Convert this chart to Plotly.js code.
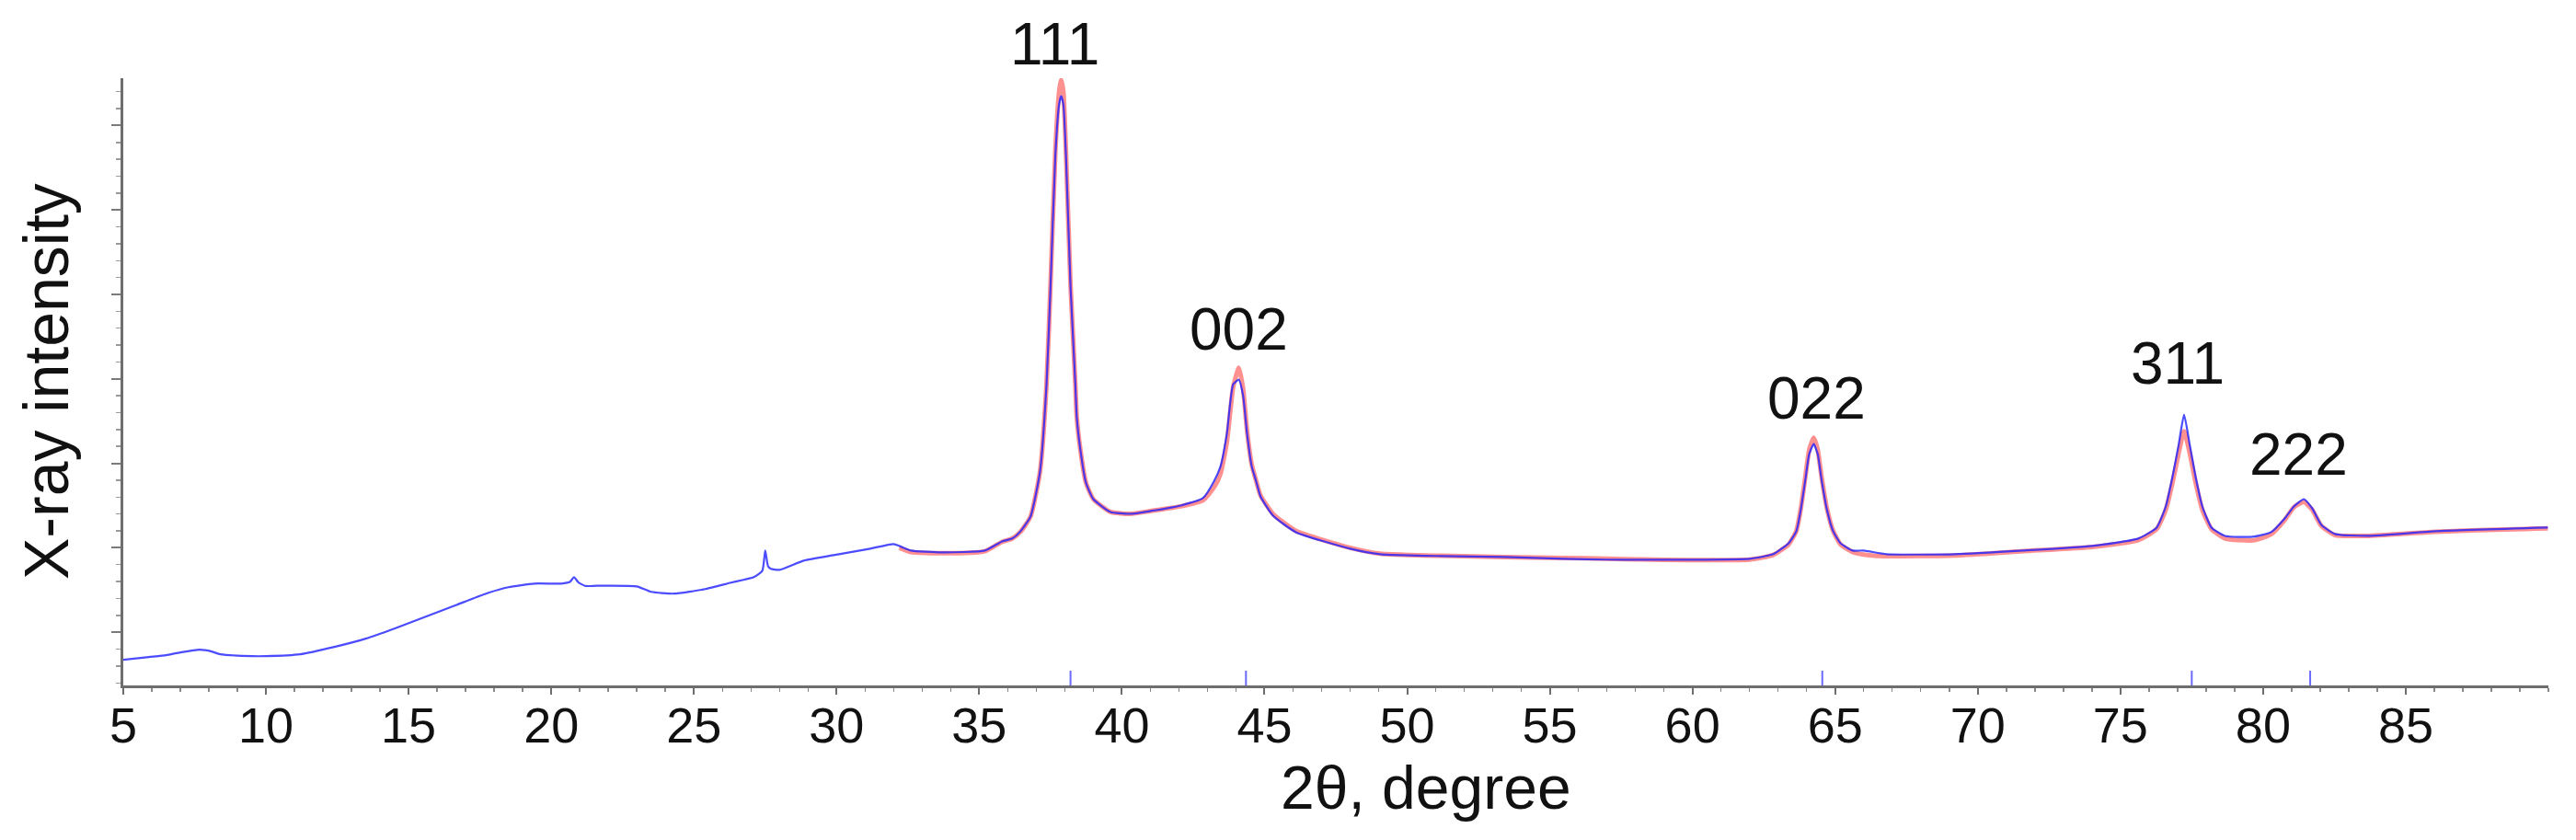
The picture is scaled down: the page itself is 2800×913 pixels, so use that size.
<!DOCTYPE html>
<html>
<head>
<meta charset="utf-8">
<script src="https://cdn.plot.ly/plotly-3.0.1.min.js"></script>
<style>
  html, body { margin:0; padding:0; background:#fff; }
  #xrd { width:2800px; height:913px; }
</style>
</head>
<body>
<div id="xrd"></div>
<script>
'use strict';

const obsTheta = [5.0, 5.9, 6.5, 7.0, 7.68, 8.1, 8.4, 9.5, 10.0, 11.2, 12.4, 13.5, 14.5, 15.6, 16.7, 17.8, 18.5, 19.4,
  20.35, 20.65, 20.8, 20.95, 21.2, 21.6, 23.0, 23.5, 24.3, 25.4, 26.3, 27.1, 27.4, 27.5, 27.6, 27.7, 28.0, 28.85, 29.9,
  31.0, 32.0, 32.2, 32.6, 33.7, 35.2, 35.8, 36.16, 36.45, 36.8, 37.13, 37.36, 37.5, 37.67, 37.8, 37.87, 37.95, 38.04,
  38.2, 38.37, 38.42, 38.55, 38.74, 39.0, 39.6, 40.3, 41.0, 42.06, 42.84, 43.24, 43.46, 43.68, 43.9, 44.1, 44.25, 44.39,
  44.55, 44.7, 44.86, 45.3, 46.1, 48.0, 49.06, 51.2, 53.4, 55.5, 57.0, 58.2, 59.8, 62.0, 62.83, 63.37, 63.64, 63.8,
  63.96, 64.09, 64.25, 64.39, 64.52, 64.71, 64.93, 65.19, 65.61, 66.0, 66.8, 69.2, 71.6, 74.02, 75.62, 76.27, 76.59,
  76.83, 77.04, 77.23, 77.43, 77.63, 77.87, 78.19, 78.67, 79.64, 80.28, 80.76, 81.08, 81.43, 81.72, 82.04, 82.52, 83.65,
  86.05, 89.98];
const obsInt = [674, 707, 728, 761, 793, 772, 739, 717, 717, 739, 826, 924, 1043, 1185, 1326, 1467, 1533, 1576,
  1576, 1595, 1652, 1590, 1548, 1550, 1543, 1478, 1457, 1511, 1587, 1652, 1728, 1967, 1780, 1750, 1739, 1848, 1913,
  1978, 2044, 2022, 1967, 1946, 1967, 2076, 2110, 2196, 2370, 2900, 3935, 5098, 6652, 7250, 7348, 7250, 6652,
  5098, 3935, 3544, 3152, 2772, 2576, 2424, 2402, 2435, 2500, 2587, 2794, 2967, 3348, 3935, 3990, 3800, 3348,
  2967, 2794, 2609, 2380, 2185, 1989, 1924, 1902, 1891, 1870, 1860, 1859, 1859, 1870, 1924, 2054, 2196, 2457,
  2815, 3109, 3228, 3109, 2815, 2457, 2196, 2054, 1967, 1967, 1924, 1924, 1967, 2022, 2109, 2239, 2489,
  2848, 3217, 3576, 3217, 2848, 2489, 2239, 2141, 2130, 2185, 2348, 2489, 2576, 2467, 2272, 2163, 2141,
  2196, 2239];

// calculated profile (red)
const calcTheta = [32.2, 32.6, 33.7, 35.2, 35.8, 36.16, 36.45, 36.8, 37.13, 37.36, 37.5, 37.67, 37.8, 37.87, 37.95,
  38.04, 38.2, 38.37, 38.42, 38.55, 38.74, 39.0, 39.6, 40.3, 41.0, 42.06, 42.84, 43.24, 43.46, 43.68, 43.9, 44.1,
  44.25, 44.39, 44.55, 44.7, 44.86, 45.3, 46.1, 48.0, 49.06, 51.2, 53.4, 55.5, 57.0, 58.2, 59.8, 62.0, 62.83, 63.37,
  63.64, 63.8, 63.96, 64.09, 64.25, 64.39, 64.52, 64.71, 64.93, 65.19, 65.61, 66.0, 66.8, 69.2, 71.6, 74.02, 75.62,
  76.27, 76.59, 76.83, 77.04, 77.23, 77.43, 77.63, 77.87, 78.19, 78.67, 79.64, 80.28, 80.76, 81.08, 81.43, 81.72,
  82.04, 82.52, 83.65, 86.05, 89.98];
const calcInt = [2000, 1950, 1935, 1960, 2070, 2110, 2190, 2370, 2900, 3935, 5120, 6700, 7400, 7544, 7400,
  6700, 5120, 3935, 3544, 3152, 2772, 2576, 2424, 2402, 2435, 2490, 2560, 2720, 2880, 3250, 3900, 4131,
  3880, 3380, 2990, 2800, 2620, 2400, 2200, 2000, 1930, 1905, 1890, 1880, 1870, 1862, 1855, 1860, 1915, 2040,
  2200, 2470, 2850, 3160, 3304, 3160, 2850, 2470, 2200, 2040, 1950, 1920, 1900, 1910, 1960, 2010, 2090,
  2220, 2450, 2780, 3120, 3380, 3120, 2780, 2450, 2220, 2110, 2087, 2160, 2330, 2480, 2544, 2450,
  2260, 2150, 2141, 2190, 2230];

// Bragg reflection positions (small blue ticks on the axis)
const braggPos = [38.2, 44.35, 64.55, 77.5, 81.65];

// hkl labels above the peaks
const hklLabels = ['111', '002', '022', '311', '222'];
const hklTheta = [37.65, 44.1, 64.35, 77.0, 81.26];
const hklInt = [7960, 4590, 3765, 4180, 3100];

const xTickVals = [5, 10, 15, 20, 25, 30, 35, 40, 45, 50, 55, 60, 65, 70, 75, 80, 85];

const yMin = 370, yMax = 7560;
const braggTop = 545;

(function(){
  const FONT = 'Liberation Sans, Arial, sans-serif';
  const toPaper = v => (v - yMin) / (yMax - yMin);

  const braggX = [], braggY = [];
  braggPos.forEach(p => { braggX.push(p, p, null); braggY.push(yMin, braggTop, null); });

  const traces = [
    { x: braggX, y: braggY, mode: 'lines', type: 'scatter',
      line: { color: 'rgba(90,90,255,0.9)', width: 2 }, hoverinfo: 'skip' },
    { x: calcTheta, y: calcInt, mode: 'lines', type: 'scatter', name: 'calc',
      line: { color: 'rgba(255,70,70,0.6)', width: 5, shape: 'spline', smoothing: 0.5 } },
    { x: obsTheta, y: obsInt, mode: 'lines', type: 'scatter', name: 'obs',
      line: { color: 'rgba(30,30,255,0.8)', width: 2.2, shape: 'spline', smoothing: 0.5 } }
  ];

  const annotations = hklLabels.map((t, i) => ({
    x: hklTheta[i], y: toPaper(hklInt[i]), xref: 'x', yref: 'paper', text: t,
    showarrow: false, xanchor: 'center', yanchor: 'middle',
    font: { family: FONT, size: 64, color: '#111' }
  }));
  // axis titles placed as annotations (the x title sits right of the axis centre)
  annotations.push({
    x: 0.537, y: -0.168, xref: 'paper', yref: 'paper', text: '2θ, degree',
    showarrow: false, xanchor: 'center', yanchor: 'middle',
    font: { family: FONT, size: 66, color: '#111' }
  });
  annotations.push({
    x: 50, y: 0.5, xref: 'x domain', yref: 'paper', text: 'X-ray intensity',
    showarrow: false, textangle: -90, xanchor: 'center', yanchor: 'middle',
    font: { family: FONT, size: 68, color: '#111' }
  });
  annotations[annotations.length - 1].xref = 'paper';
  annotations[annotations.length - 1].x = (50 - 134) / 2636;

  const layout = {
    width: 2800, height: 913,
    margin: { l: 134, r: 30, t: 85, b: 168 },
    paper_bgcolor: '#fff', plot_bgcolor: '#fff',
    showlegend: false,
    font: { family: FONT, color: '#111' },
    xaxis: {
      range: [5, 90], tickmode: 'array', tickvals: xTickVals,
      showline: true, linecolor: '#6e6e6e', linewidth: 3,
      ticks: 'outside', ticklen: 7, tickwidth: 2, tickcolor: '#6e6e6e',
      minor: { tickmode: 'linear', tick0: 5, dtick: 1, ticks: 'outside', ticklen: 4, tickwidth: 1.5, tickcolor: '#8a8a8a' },
      showgrid: false, zeroline: false,
      tickfont: { family: FONT, size: 54, color: '#111' },
      ticklabelstandoff: -13,
      automargin: false
    },
    yaxis: {
      range: [yMin, yMax], tick0: 0, dtick: 1000,
      showline: true, linecolor: '#6e6e6e', linewidth: 3,
      ticks: 'outside', ticklen: 10, tickwidth: 2, tickcolor: '#7a7a7a',
      minor: { tick0: 0, dtick: 200, ticks: 'outside', ticklen: 5, tickwidth: 1.5, tickcolor: '#999' },
      showticklabels: false, showgrid: false, zeroline: false,
      automargin: false
    },
    annotations: annotations
  };

  Plotly.newPlot('xrd', traces, layout, { displayModeBar: false, staticPlot: true });
})();
</script>
</body>
</html>
